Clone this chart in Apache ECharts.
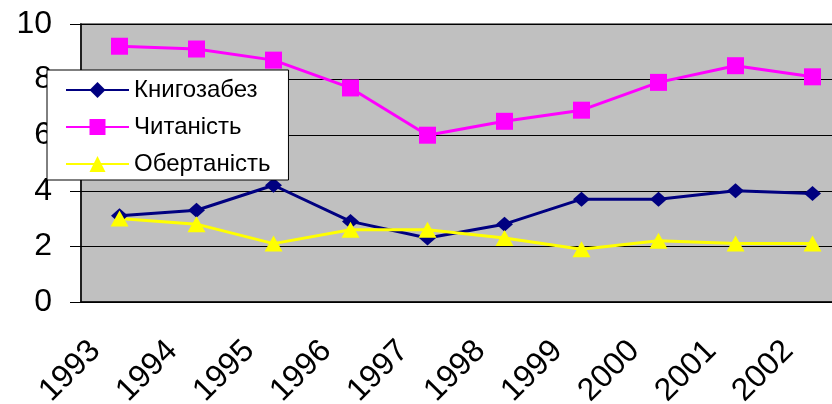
<!DOCTYPE html>
<html>
<head>
<meta charset="utf-8">
<script src="https://cdn.jsdelivr.net/npm/echarts@6/dist/echarts.min.js"></script>
<style>
    html, body { margin: 0; padding: 0; background: #fff; }
    #chart { width: 832px; height: 404px; }
</style>
</head>
<body>
<div id="chart"></div>
<script>
var years = ['1993', '1994', '1995', '1996', '1997', '1998', '1999', '2000', '2001', '2002'];
var knyhozabez = [3.1, 3.3, 4.2, 2.9, 2.3, 2.8, 3.7, 3.7, 4.0, 3.9];
var chytanist = [9.2, 9.1, 8.7, 7.7, 6.0, 6.5, 6.9, 7.9, 8.5, 8.1];
var obertanist = [3.0, 2.8, 2.1, 2.6, 2.6, 2.3, 1.9, 2.2, 2.1, 2.1];
var yTicks = [0, 2, 4, 6, 8, 10];

window.onload = function () {
    var myChart = echarts.init(document.getElementById('chart'));
    var font = '"Liberation Sans", Arial, sans-serif';

    // plot area runs past the right edge of the picture (cropped)
    option = {
        animation: false,
        textStyle: { fontFamily: font },
        grid: {
            left: 81,
            top: 24,
            right: -19,
            bottom: 102,
            outerBoundsMode: 'none',
            containLabel: false,
            show: true,
            backgroundColor: '#C0C0C0',
            borderColor: '#808080',
            borderWidth: 2
        },
        legend: {
            orient: 'vertical',
            left: 47,
            top: 70,
            padding: [8, 18, 4, 18],
            itemGap: 13,
            itemWidth: 63,
            itemHeight: 20,
            backgroundColor: '#fff',
            borderColor: '#000',
            borderWidth: 1,
            textStyle: { fontFamily: font, fontSize: 24, color: '#000', lineHeight: 24 },
            data: ['Книгозабез', 'Читаність', 'Обертаність']
        },
        xAxis: {
            type: 'category',
            data: years,
            boundaryGap: true,
            axisLine: { lineStyle: { color: '#000', width: 1.5 } },
            axisTick: { length: 10, lineStyle: { color: '#000' } },
            axisLabel: {
                interval: 0,
                rotate: 45,
                margin: 20,
                padding: [0, 34, 0, 0],
                fontSize: 32,
                color: '#000',
                fontFamily: font
            }
        },
        yAxis: {
            type: 'value',
            min: yTicks[0],
            max: yTicks[yTicks.length - 1],
            interval: 2,
            axisLine: { show: true, lineStyle: { color: '#000', width: 1.5 } },
            axisTick: { show: true, length: 11, lineStyle: { color: '#000' } },
            splitLine: { lineStyle: { color: '#000', width: 1 } },
            axisLabel: { margin: 29, fontSize: 32, color: '#000', fontFamily: font }
        },
        series: [{
            name: 'Книгозабез',
            type: 'line',
            data: knyhozabez,
            symbol: 'diamond',
            symbolSize: [17, 15],
            color: '#000080',
            lineStyle: { width: 3, color: '#000080' },
            itemStyle: { color: '#000080' }
        }, {
            name: 'Читаність',
            type: 'line',
            data: chytanist,
            symbol: 'rect',
            symbolSize: 17,
            color: '#FF00FF',
            lineStyle: { width: 3, color: '#FF00FF' },
            itemStyle: { color: '#FF00FF' }
        }, {
            name: 'Обертаність',
            type: 'line',
            data: obertanist,
            symbol: 'triangle',
            symbolSize: [18, 16],
            color: '#FFFF00',
            lineStyle: { width: 3, color: '#FFFF00' },
            itemStyle: { color: '#FFFF00' }
        }]
    };
    myChart.setOption(option);
}
</script>
</body>
</html>
